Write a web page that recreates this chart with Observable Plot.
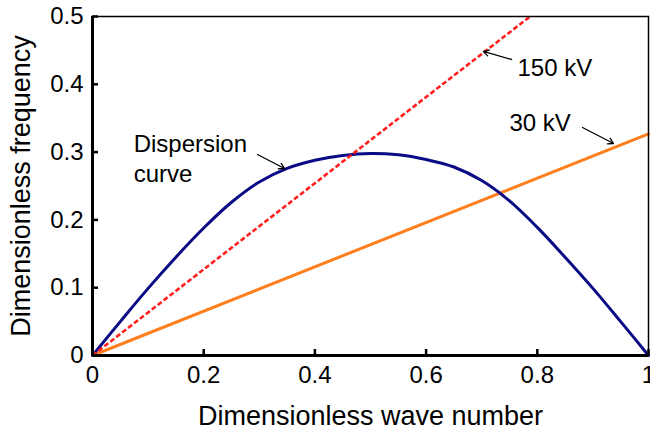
<!DOCTYPE html>
<html>
<head>
<meta charset="utf-8">
<script src="https://cdn.jsdelivr.net/npm/d3@7"></script>
<script src="https://cdn.jsdelivr.net/npm/@observablehq/plot@0.6"></script>
<style>
  html, body { margin: 0; padding: 0; background: #fff; }
  #chart { width: 650px; height: 430px; }
</style>
</head>
<body>
<div id="chart"></div>
<script>
// Dispersion curve
const waveNumber = [0, 0.05, 0.10, 0.15, 0.20, 0.25, 0.30, 0.35, 0.40, 0.45, 0.50,
                    0.55, 0.60, 0.65, 0.70, 0.75, 0.80, 0.85, 0.90, 0.95, 1.00];
const dispersionFreq = [0, 0.050, 0.099, 0.145, 0.188, 0.226, 0.256, 0.276, 0.288, 0.295, 0.298,
                        0.296, 0.289, 0.278, 0.258, 0.228, 0.189, 0.145, 0.099, 0.050, 0];
// Beam lines
const beam150X = [0, 0.787];
const beam150Y = [0, 0.5];
const beam30X = [0, 1];
const beam30Y = [0, 0.327];
// Ticks
const xTicks = [0, 0.2, 0.4, 0.6, 0.8, 1];
const xTickLabels = ["0", "0.2", "0.4", "0.6", "0.8", "1"];
const yTicks = [0, 0.1, 0.2, 0.3, 0.4, 0.5];
const yTickLabels = ["0", "0.1", "0.2", "0.3", "0.4", "0.5"];
// Annotation labels
const labelDispersion = ["Dispersion", "curve"];
const label150 = "150 kV";
const label30 = "30 kV";
const xTitle = "Dimensionless wave number";
const yTitle = "Dimensionless frequency";

const dispersion = waveNumber.map((x, i) => ({x, y: dispersionFreq[i]}));
const beam150 = beam150X.map((x, i) => ({x, y: beam150Y[i]}));
const beam30 = beam30X.map((x, i) => ({x, y: beam30Y[i]}));

const font = "Liberation Sans, Arial, Helvetica, sans-serif";

const chart = Plot.plot({
  width: 650,
  height: 430,
  marginLeft: 92,
  marginRight: 2,
  marginTop: 16,
  marginBottom: 75,
  style: {fontFamily: font, fontSize: "24px", color: "#000", background: "#fff"},
  x: {domain: [0, 1]},
  y: {domain: [0, 0.5]},
  marks: [
    Plot.line(beam30, {x: "x", y: "y", stroke: "#ff7f1e", strokeWidth: 3}),
    Plot.line(dispersion, {x: "x", y: "y", stroke: "#0b0b86", strokeWidth: 3, curve: "catmull-rom"}),
    Plot.line(beam150, {x: "x", y: "y", stroke: "#ff1f1f", strokeWidth: 2.6, strokeDasharray: "5,2.5", strokeLinecap: "butt", clip: true}),
    Plot.frame({stroke: "#000", strokeWidth: 1.5}),
    Plot.ruleX([0], {stroke: "#000", strokeWidth: 3}),
    Plot.ruleY([0], {stroke: "#000", strokeWidth: 3}),
    // inward ticks
    Plot.axisX({ticks: xTicks, tickSize: 6, dy: -6, text: null, label: null, strokeWidth: 2.5}),
    Plot.axisY({ticks: yTicks, tickSize: 6, dx: 6, text: null, label: null, strokeWidth: 2.5}),
    // tick labels
    Plot.axisX({ticks: xTicks, tickSize: 0, tickPadding: 10, fontSize: 24,
      tickFormat: d => xTickLabels[xTicks.indexOf(d)], label: null}),
    Plot.axisY({ticks: yTicks, tickSize: 0, tickPadding: 9, fontSize: 24,
      tickFormat: d => yTickLabels[yTicks.indexOf(d)], label: null}),
    // axis titles
    Plot.text([xTitle], {frameAnchor: "bottom", dy: 61, text: d => d, fontSize: 27, textAnchor: "middle", lineAnchor: "middle"}),
    Plot.text([yTitle], {frameAnchor: "left", dx: -71, rotate: -90, text: d => d, fontSize: 27, textAnchor: "middle", lineAnchor: "middle"}),
    // annotations
    Plot.text([labelDispersion[0]], {x: 0.074, y: 0.311, text: d => d, textAnchor: "start", fontSize: 24}),
    Plot.text([labelDispersion[1]], {x: 0.074, y: 0.267, text: d => d, textAnchor: "start", fontSize: 24}),
    Plot.text([label150], {x: 0.7644, y: 0.4233, text: d => d, textAnchor: "start", fontSize: 24}),
    Plot.text([label30], {x: 0.75, y: 0.3422, text: d => d, textAnchor: "start", fontSize: 24}),
    Plot.arrow([0], {x1: 0.2968, y1: 0.2965, x2: 0.3453, y2: 0.2758, stroke: "#000", strokeWidth: 1.3, headLength: 7}),
    Plot.arrow([0], {x1: 0.7536, y1: 0.4366, x2: 0.7032, y2: 0.4484, stroke: "#000", strokeWidth: 1.3, headLength: 7}),
    Plot.arrow([0], {x1: 0.8813, y1: 0.3363, x2: 0.9371, y2: 0.3127, stroke: "#000", strokeWidth: 1.3, headLength: 7})
  ]
});
document.getElementById("chart").appendChild(chart);
</script>
</body>
</html>
